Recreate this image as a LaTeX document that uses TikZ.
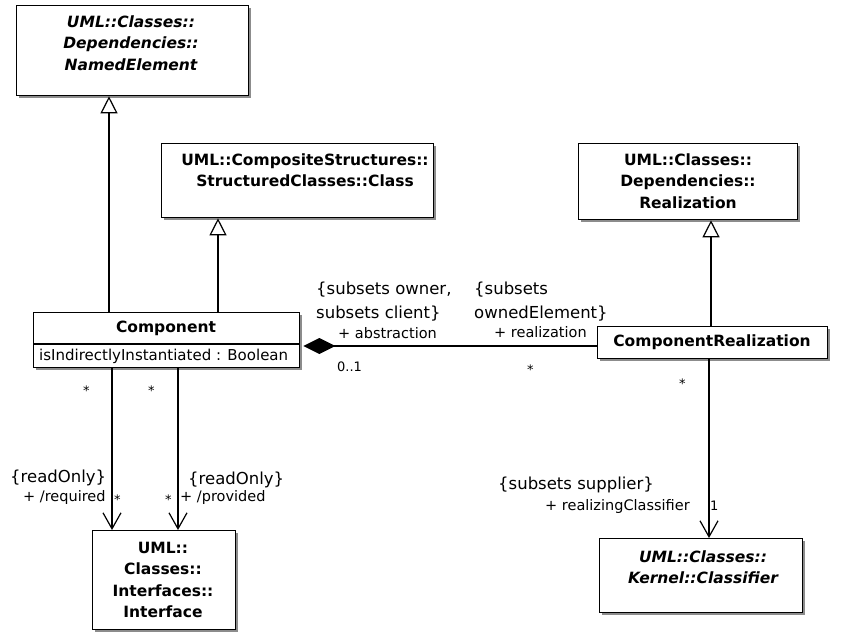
\documentclass[tikz,border=0pt]{standalone}
\usepackage{fontspec}
\setmainfont{DejaVu Sans}
\usetikzlibrary{arrows.meta,shadows}
\begin{document}
\begin{tikzpicture}[x=1pt,y=-1pt,
  umlbox/.style={draw, line width=1.3pt, fill=white, inner sep=0pt, anchor=north west,
    drop shadow={shadow xshift=2pt, shadow yshift=-2pt, fill=black!45, opacity=1}},
  title/.style={font=\fontsize{15.5}{21.5}\selectfont\bfseries, align=center, inner sep=0pt},
  atext/.style={font=\fontsize{15}{18}\selectfont, inner sep=0pt, anchor=west},
  cons/.style={font=\fontsize{16.5}{24}\selectfont, inner sep=0pt, anchor=west},
  role/.style={font=\fontsize{14.5}{17}\selectfont, inner sep=0pt, anchor=west},
  mult/.style={font=\fontsize{13}{15}\selectfont, inner sep=0pt, anchor=west},
  gen/.style={draw, line width=1.2pt, -{Triangle[open, length=17pt, width=17pt, fill=white]}},
  nav/.style={draw, line width=1.2pt, -{Straight Barb[length=16pt, width=18pt, line width=1.2pt]}},
  compo/.style={draw, line width=1.2pt, {Diamond[length=32pt, width=16pt, fill=black]}-}
]
\useasboundingbox (0,0) rectangle (842,632);

% boxes
\node[umlbox, minimum width=232pt, minimum height=90pt] (ne) at (16,5) {};
\node[title] (net) at (131,43) {\itshape UML::Classes::\\\itshape Dependencies::\\\itshape NamedElement};

\node[umlbox, minimum width=272pt, minimum height=74pt] (cs) at (161,143) {};
\node[title] (cst) at (305,170) {UML::CompositeStructures::\\StructuredClasses::Class};

\node[umlbox, minimum width=219pt, minimum height=76pt] (re) at (578,143) {};
\node[title] (ret) at (688,181) {UML::Classes::\\Dependencies::\\Realization};

\node[umlbox, minimum width=266pt, minimum height=55pt] (comp) at (33,312) {};
\draw[line width=1.3pt] ([yshift=-32pt]comp.north west) -- ([yshift=-32pt]comp.north east);
\node[title] (compt) at (166,328) {Component};
\node[atext] (compa) at (39,356) {isIndirectlyInstantiated : Boolean};

\node[umlbox, minimum width=230pt, minimum height=32pt] (cr) at (597,326) {};
\node[title] (crt) at (712,342) {ComponentRealization};

\node[umlbox, minimum width=143pt, minimum height=99pt] (if) at (92,530) {};
\node[title] (ift) at (163,580) {UML::\\Classes::\\Interfaces::\\Interface};

\node[umlbox, minimum width=203pt, minimum height=74pt] (cl) at (599,538) {};
\node[title] (clt) at (703,567) {\itshape UML::Classes::\\\itshape Kernel::Classifier};

% generalizations
\draw[gen] ([xshift=76pt]comp.north west) -- ([xshift=76pt]comp.north west |- ne.south);
\draw[gen] ([xshift=185pt]comp.north west) -- ([xshift=185pt]comp.north west |- cs.south);
\draw[gen] ([xshift=114pt]cr.north west) -- ([xshift=114pt]cr.north west |- re.south);

% composition
\draw[compo] ([xshift=3pt,yshift=-34pt]comp.north east) -- ([yshift=-34pt]comp.north east -| cr.west);

% navigable associations
\draw[nav] ([xshift=79pt]comp.south west) -- ([xshift=79pt]comp.south west |- if.north);
\draw[nav] ([xshift=145pt]comp.south west) -- ([xshift=145pt]comp.south west |- if.north);
\draw[nav] ([xshift=112pt]cr.south west) -- ([xshift=112pt]cr.south west |- cl.north);

% labels: composition
\node[cons] (c1) at (316,290) {\{subsets owner,};
\node[cons] (c2) at (316,314) {subsets client\}};
\node[role] (r1) at (338,333) {+ abstraction};
\node[mult] (m1) at (337,367) {0..1};
\node[cons] (c3) at (474,290) {\{subsets};
\node[cons] (c4) at (474,314) {ownedElement\}};
\node[role] (r2) at (494,332) {+ realization};
\node[mult] (m2) at (527,370) {*};

% labels: component ends
\node[mult] (m3) at (83,391) {*};
\node[mult] (m4) at (148,391) {*};

% labels: required / provided
\node[cons] (c5) at (10,478) {\{readOnly\}};
\node[role] (r3) at (23,497) {+ /required};
\node[mult] (m5) at (114,500) {*};
\node[mult] (m6) at (165,500) {*};
\node[role] (r4) at (180,497) {+ /provided};
\node[cons] (c6) at (188,480) {\{readOnly\}};

% labels: realizing classifier
\node[mult] (m7) at (679,384) {*};
\node[cons] (c7) at (498,485) {\{subsets supplier\}};
\node[role] (r5) at (545,506) {+ realizingClassifier};
\node[mult] (m8) at (710,506) {1};
\end{tikzpicture}
\end{document}
